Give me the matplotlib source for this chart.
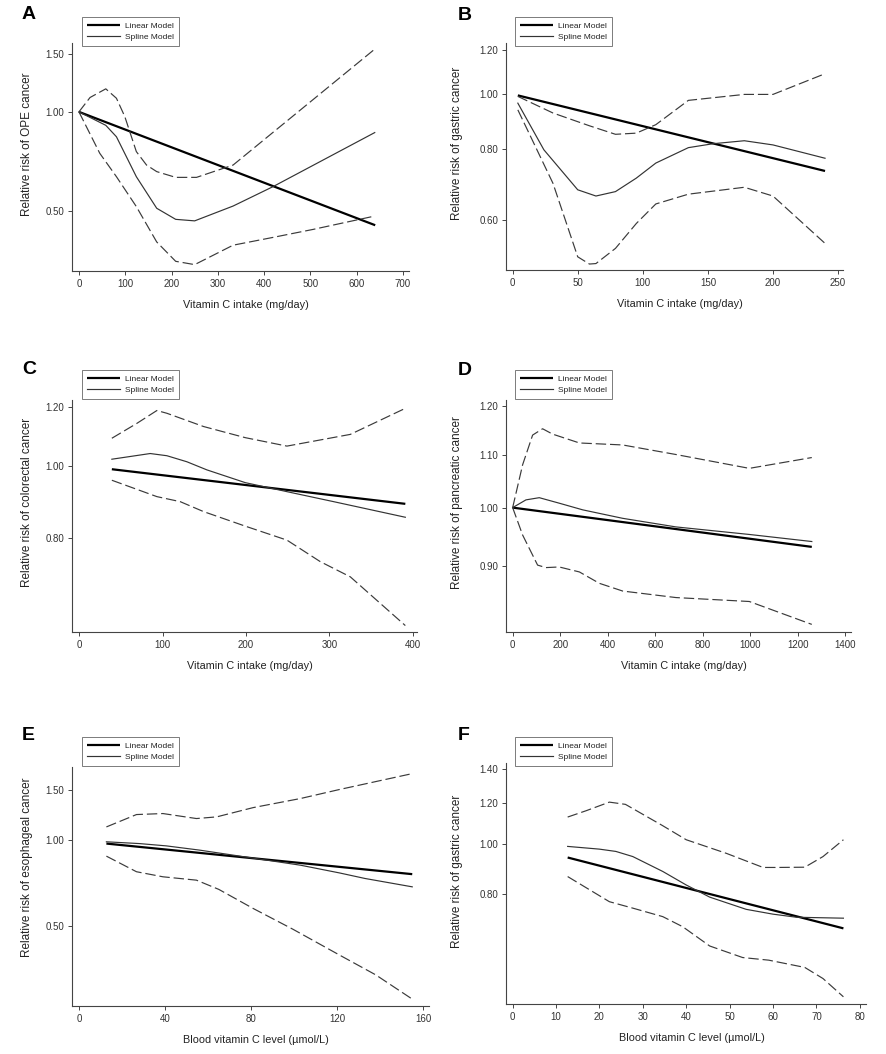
import matplotlib
matplotlib.use("Agg")
import matplotlib.pyplot as plt
from matplotlib.ticker import FixedLocator, NullLocator, FuncFormatter

plt.rcParams['font.family'] = ['Liberation Sans', 'DejaVu Sans']
plt.rcParams['lines.scale_dashes'] = False

# ---------------- data ----------------
# Panel A: OPE cancer vs vitamin C intake
a_lin_x = [0, 640]
a_lin_y = [1.0, 0.452]
a_spl_x = [0, 58, 81, 124, 168, 209, 250, 333, 419, 639]
a_spl_y = [1.0, 0.91, 0.84, 0.635, 0.509, 0.471, 0.466, 0.517, 0.592, 0.865]
a_up_x = [0, 24, 58, 81, 99, 124, 146, 168, 209, 254, 333, 639]
a_up_y = [1.0, 1.106, 1.175, 1.10, 0.968, 0.757, 0.689, 0.658, 0.632, 0.632, 0.689, 1.552]
a_lo_x = [0, 45, 81, 124, 168, 209, 250, 333, 419, 506, 639]
a_lo_y = [1.0, 0.748, 0.635, 0.515, 0.402, 0.351, 0.343, 0.393, 0.415, 0.439, 0.482]

# Panel B: gastric cancer vs vitamin C intake
b_lin_x = [4, 240]
b_lin_y = [0.996, 0.732]
b_spl_x = [4, 24, 50, 64, 79, 95, 110, 135, 154, 178, 200, 240]
b_spl_y = [0.965, 0.798, 0.678, 0.661, 0.673, 0.711, 0.756, 0.805, 0.818, 0.828, 0.814, 0.771]
b_up_x = [4, 31, 59, 79, 95, 110, 135, 178, 200, 240]
b_up_y = [0.992, 0.927, 0.880, 0.850, 0.854, 0.884, 0.976, 1.0, 1.0, 1.088]
b_lo_x = [4, 31, 50, 59, 64, 79, 95, 110, 135, 178, 200, 240]
b_lo_y = [0.939, 0.696, 0.516, 0.501, 0.502, 0.534, 0.591, 0.640, 0.666, 0.685, 0.661, 0.545]

# Panel C: colorectal cancer vs vitamin C intake
c_lin_x = [39, 391]
c_lin_y = [0.990, 0.890]
c_spl_x = [39, 85, 105, 129, 153, 199, 249, 305, 391]
c_spl_y = [1.021, 1.039, 1.032, 1.013, 0.988, 0.950, 0.924, 0.896, 0.854]
c_up_x = [39, 69, 93, 105, 149, 199, 249, 325, 391]
c_up_y = [1.089, 1.140, 1.186, 1.176, 1.129, 1.091, 1.063, 1.102, 1.194]
c_lo_x = [39, 93, 121, 149, 199, 249, 289, 325, 391]
c_lo_y = [0.957, 0.910, 0.896, 0.869, 0.831, 0.796, 0.745, 0.711, 0.612]

# Panel D: pancreatic cancer vs vitamin C intake
d_lin_x = [0, 1259]
d_lin_y = [1.0, 0.932]
d_spl_x = [0, 56, 112, 196, 295, 463, 687, 996, 1259]
d_spl_y = [1.0, 1.014, 1.018, 1.008, 0.996, 0.981, 0.966, 0.953, 0.941]
d_up_x = [0, 42, 84, 126, 168, 281, 463, 687, 996, 1259]
d_up_y = [1.0, 1.080, 1.139, 1.152, 1.141, 1.123, 1.119, 1.10, 1.073, 1.094]
d_lo_x = [0, 42, 105, 140, 196, 281, 365, 463, 687, 996, 1259]
d_lo_y = [1.0, 0.952, 0.902, 0.898, 0.899, 0.891, 0.873, 0.861, 0.851, 0.845, 0.811]

# Panel E: esophageal cancer vs blood vitamin C
e_lin_x = [12.7, 155]
e_lin_y = [0.973, 0.760]
e_spl_x = [12.7, 28, 40.6, 56, 81, 103, 121, 133, 155]
e_spl_y = [0.987, 0.973, 0.955, 0.923, 0.865, 0.817, 0.768, 0.734, 0.686]
e_up_x = [12.7, 26.7, 39, 54.6, 64, 81, 103, 121, 155]
e_up_y = [1.113, 1.230, 1.240, 1.191, 1.207, 1.301, 1.40, 1.505, 1.712]
e_lo_x = [12.7, 26.7, 39, 54.6, 65, 81, 99.5, 121, 138, 155]
e_lo_y = [0.879, 0.775, 0.744, 0.724, 0.672, 0.576, 0.487, 0.396, 0.337, 0.277]

# Panel F: gastric cancer vs blood vitamin C
f_lin_x = [12.7, 76.2]
f_lin_y = [0.942, 0.686]
f_spl_x = [12.7, 20, 23.8, 27.7, 34.6, 40, 45.4, 53.8, 60, 65.4, 76.2]
f_spl_y = [0.990, 0.978, 0.968, 0.946, 0.885, 0.833, 0.789, 0.747, 0.731, 0.721, 0.718]
f_up_x = [12.7, 16.9, 22.3, 26, 34.6, 40, 49.2, 57.7, 60.8, 67.3, 71.5, 76.2]
f_up_y = [1.129, 1.161, 1.207, 1.195, 1.086, 1.020, 0.960, 0.901, 0.901, 0.902, 0.946, 1.020]
f_lo_x = [12.7, 22.3, 27.7, 34.6, 39.2, 45.4, 53, 59, 67.3, 71.5, 76.2]
f_lo_y = [0.865, 0.773, 0.751, 0.723, 0.691, 0.634, 0.602, 0.595, 0.576, 0.548, 0.505]

letters = ['A', 'B', 'C', 'D', 'E', 'F']
ylabels = ['Relative risk of OPE cancer', 'Relative risk of gastric cancer',
           'Relative risk of colorectal cancer', 'Relative risk of pancreatic cancer',
           'Relative risk of esophageal cancer', 'Relative risk of gastric cancer']
xlabels = ['Vitamin C intake (mg/day)'] * 4 + ['Blood vitamin C level (\u00b5mol/L)'] * 2
xticks = [list(range(0, 701, 100)), list(range(0, 251, 50)), list(range(0, 401, 100)),
          list(range(0, 1401, 200)), [0, 40, 80, 120, 160], list(range(0, 81, 10))]
yticks = [[0.50, 1.00, 1.50], [0.60, 0.80, 1.00, 1.20], [0.80, 1.00, 1.20],
          [0.90, 1.00, 1.10, 1.20], [0.50, 1.00, 1.50], [0.80, 1.00, 1.20, 1.40]]
legend_labels = ['Linear Model', 'Spline Model']

panels = [
    (a_lin_x, a_lin_y, a_spl_x, a_spl_y, a_up_x, a_up_y, a_lo_x, a_lo_y),
    (b_lin_x, b_lin_y, b_spl_x, b_spl_y, b_up_x, b_up_y, b_lo_x, b_lo_y),
    (c_lin_x, c_lin_y, c_spl_x, c_spl_y, c_up_x, c_up_y, c_lo_x, c_lo_y),
    (d_lin_x, d_lin_y, d_spl_x, d_spl_y, d_up_x, d_up_y, d_lo_x, d_lo_y),
    (e_lin_x, e_lin_y, e_spl_x, e_spl_y, e_up_x, e_up_y, e_lo_x, e_lo_y),
    (f_lin_x, f_lin_y, f_spl_x, f_spl_y, f_up_x, f_up_y, f_lo_x, f_lo_y),
]

# ---------------- layout (pixels) ----------------
W, H = 886, 1054
# left, top, right, bottom of each axes in px
boxes = [(72, 43, 409, 271), (506, 43, 843, 270),
         (72, 400, 417, 632), (506, 400, 851, 632),
         (72, 767, 429, 1006), (506, 763, 866, 1004)]
xlims = [(-15, 713), (-5.1, 253.8), (-8.8, 405), (-28, 1424), (-3.3, 162.8), (-1.5, 81.4)]
ylims = [(0.328, 1.62), (0.489, 1.233), (0.60, 1.225), (0.80, 1.213), (0.262, 1.806), (0.489, 1.438)]
letter_pos = [(22, 19), (458, 20), (22, 374), (458, 375), (22, 740), (458, 740)]
legend_pos = [(82, 16.7), (515, 16.7), (82, 370), (515, 370), (82, 737), (515, 737)]
ylabel_x = [27, 457, 27, 457, 27, 457]
ylabel_y = [0.555, 0.56, 0.56, 0.56, 0.58, 0.55]

fig = plt.figure(figsize=(W / 100, H / 100), dpi=100)
fig.patch.set_facecolor('white')

axcol = '#444444'
for i, (l, t, r, b) in enumerate(boxes):
    ax = fig.add_axes([l / W, 1 - b / H, (r - l) / W, (b - t) / H])
    lx, ly, sx, sy, ux, uy, wx, wy = panels[i]
    h_lin, = ax.plot(lx, ly, color='black', lw=1.6, solid_capstyle='butt')
    h_spl, = ax.plot(sx, sy, color='#333333', lw=0.85)
    ax.plot(ux, uy, color='#3a3a3a', lw=0.85, dashes=(7.5, 2.8))
    ax.plot(wx, wy, color='#3a3a3a', lw=0.85, dashes=(7.5, 2.8))
    ax.set_yscale('log')
    ax.set_xlim(*xlims[i])
    ax.set_ylim(*ylims[i])
    ax.yaxis.set_major_locator(FixedLocator(yticks[i]))
    ax.yaxis.set_minor_locator(NullLocator())
    ax.yaxis.set_major_formatter(FuncFormatter(lambda v, p: f'{v:.2f}'))
    ax.set_xticks(xticks[i])
    for s in ['top', 'right']:
        ax.spines[s].set_visible(False)
    for s in ['left', 'bottom']:
        ax.spines[s].set_color(axcol)
        ax.spines[s].set_linewidth(0.8)
    ax.tick_params(axis='both', length=3, width=0.7, color=axcol, labelsize=7,
                   labelcolor='#333333', pad=2.5)
    ax.set_facecolor('none')
    ax.set_ylabel(ylabels[i], fontsize=8.5, color='#222222')
    ax.yaxis.set_label_coords((ylabel_x[i] - l) / (r - l), ylabel_y[i])
    ax.yaxis.label.set_va('center')
    ax.set_xlabel(xlabels[i], fontsize=7.8, color='#222222')
    ax.xaxis.set_label_coords(0.516, -34 / (b - t))
    ax.xaxis.label.set_va('center')
    fig.text(letter_pos[i][0] / W, 1 - letter_pos[i][1] / H, letters[i],
             fontsize=14, fontweight='bold', ha='left', va='baseline')
    lg = ax.legend([h_lin, h_spl], legend_labels, loc='upper left',
                   bbox_to_anchor=(legend_pos[i][0] / W, 1 - legend_pos[i][1] / H),
                   bbox_transform=fig.transFigure, fontsize=6, frameon=True,
                   fancybox=False, framealpha=1, edgecolor='#666666',
                   handlelength=4.0, handletextpad=0.6, borderpad=0.6,
                   labelspacing=0.43, borderaxespad=0)
    lg.get_frame().set_linewidth(0.6)
    for txt in lg.get_texts():
        txt.set_color('#222222')

fig.savefig('out.png', dpi=100, facecolor='white')
